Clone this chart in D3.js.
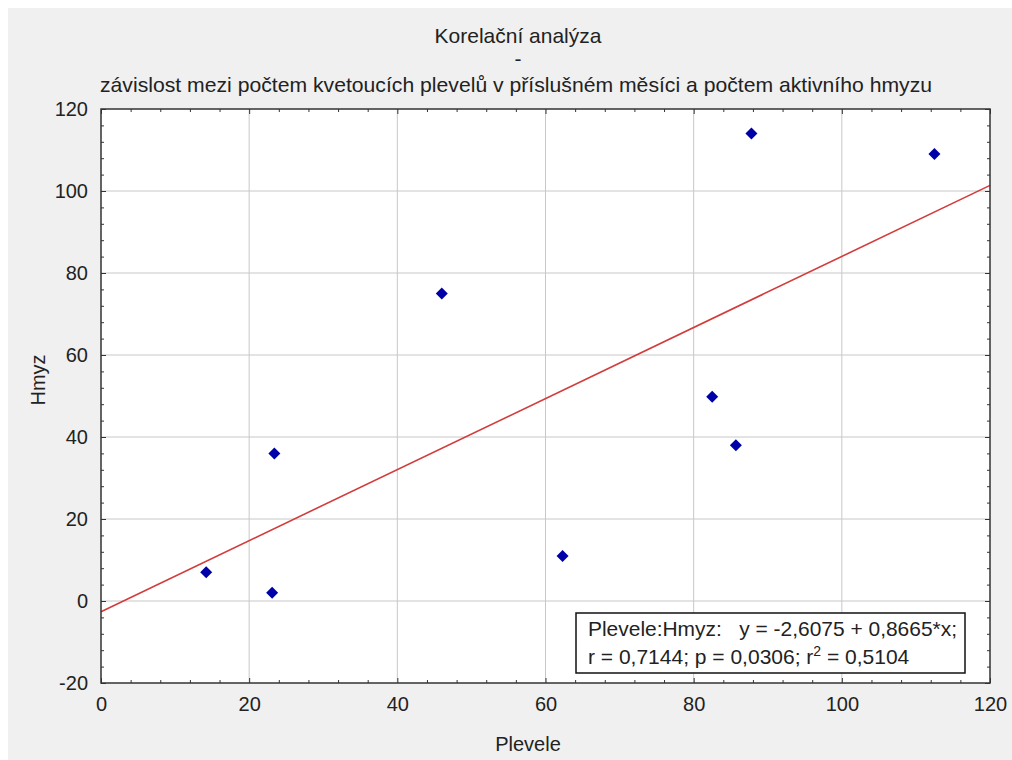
<!DOCTYPE html>
<html><head><meta charset="utf-8">
<script src="https://cdn.jsdelivr.net/npm/d3@7"></script>
<style>body{margin:0;background:#fff;} text{font-family:"Liberation Sans",Arial,sans-serif;fill:#222;}</style>
</head><body>
<svg id="c" width="1012" height="760"></svg>
<script>
const plevele = [14.2, 23.1, 23.4, 62.3, 46.0, 82.5, 85.7, 87.8, 112.5];
const hmyz    = [7.0, 2.0, 36.0, 11.0, 75.0, 49.8, 38.0, 114.0, 109.0];
const xTicks = [0, 20, 40, 60, 80, 100, 120];
const yTicks = [-20, 0, 20, 40, 60, 80, 100, 120];
const intercept = -2.6075, slope = 0.8665;
const titleLines = ["Korelační analýza", "-", "závislost mezi počtem kvetoucích plevelů v příslušném měsíci a počtem aktivního hmyzu"];
const legendLine1 = "Plevele:Hmyz:   y = -2,6075 + 0,8665*x;";
const xLabel = "Plevele", yLabel = "Hmyz";

const svg = d3.select("#c");
svg.append("rect").attr("x",8).attr("y",8).attr("width",1004).attr("height",752).attr("fill","#f0f0f0");

const L=101, R=990, T=109, B=683;
const x = d3.scaleLinear().domain([0,120]).range([L,R]);
const y = d3.scaleLinear().domain([-20,120]).range([B,T]);

svg.append("rect").attr("x",L).attr("y",T).attr("width",R-L).attr("height",B-T).attr("fill","#fff");

// grid
const g = svg.append("g");
g.selectAll(".gx").data(xTicks.slice(1,-1)).join("line")
 .attr("x1",d=>x(d)).attr("x2",d=>x(d)).attr("y1",T).attr("y2",B).attr("stroke","#c8c8c8").attr("stroke-width",1);
g.selectAll(".gy").data(yTicks.slice(1,-1)).join("line")
 .attr("y1",d=>y(d)).attr("y2",d=>y(d)).attr("x1",L).attr("x2",R).attr("stroke","#c8c8c8").attr("stroke-width",1);

// axes with inward ticks
const fmt = d => String(d);
const minorX = d3.range(0,121,4).filter(v=>v%20!==0);
const minorY = d3.range(-20,121,4).filter(v=>v%20!==0);
function axisG(axis, tx, ty){ const a=svg.append("g").attr("transform",`translate(${tx},${ty})`).call(axis); a.select(".domain").remove(); a.selectAll("line").attr("stroke","#333"); return a;}
const ax = axisG(d3.axisBottom(x).tickValues(xTicks).tickSizeInner(-5).tickPadding(14).tickFormat(fmt),0,B);
ax.selectAll("text").attr("font-size",20).attr("fill","#222").attr("font-family","Liberation Sans, Arial, sans-serif");
axisG(d3.axisBottom(x).tickValues(minorX).tickSizeInner(-3).tickFormat(""),0,B);
axisG(d3.axisTop(x).tickValues(xTicks).tickSizeInner(-5).tickFormat(""),0,T);
axisG(d3.axisTop(x).tickValues(minorX).tickSizeInner(-3).tickFormat(""),0,T);
const ay = axisG(d3.axisLeft(y).tickValues(yTicks).tickSizeInner(-5).tickPadding(13).tickFormat(fmt),L,0);
ay.selectAll("text").attr("font-size",20).attr("fill","#222").attr("font-family","Liberation Sans, Arial, sans-serif");
axisG(d3.axisLeft(y).tickValues(minorY).tickSizeInner(-3).tickFormat(""),L,0);
axisG(d3.axisRight(y).tickValues(yTicks).tickSizeInner(-5).tickFormat(""),R,0);
axisG(d3.axisRight(y).tickValues(minorY).tickSizeInner(-3).tickFormat(""),R,0);

// regression line
svg.append("line").attr("x1",x(0)).attr("y1",y(intercept)).attr("x2",x(120)).attr("y2",y(intercept+slope*120))
 .attr("stroke","#d23c3c").attr("stroke-width",1.6);

// points
svg.selectAll(".pt").data(plevele.map((p,i)=>[p,hmyz[i]])).join("path")
 .attr("d","M0,-6L6,0L0,6L-6,0Z").attr("fill","#0000a8")
 .attr("transform",d=>`translate(${x(d[0])},${y(d[1])})`);

// border
svg.append("rect").attr("x",L).attr("y",T).attr("width",R-L).attr("height",B-T).attr("fill","none").attr("stroke","#333").attr("stroke-width",1.5);

// titles
svg.append("text").attr("x",518).attr("y",43).attr("text-anchor","middle").attr("font-size",21).text(titleLines[0]);
svg.append("text").attr("x",518).attr("y",66).attr("text-anchor","middle").attr("font-size",21).text(titleLines[1]);
svg.append("text").attr("x",516).attr("y",92).attr("text-anchor","middle").attr("font-size",21)
 .attr("textLength",832).attr("lengthAdjust","spacingAndGlyphs").text(titleLines[2]);

svg.append("text").attr("x",528).attr("y",751).attr("text-anchor","middle").attr("font-size",20).text(xLabel);
svg.append("text").attr("transform","translate(45,380) rotate(-90)").attr("text-anchor","middle").attr("font-size",20).text(yLabel);

// legend box
svg.append("rect").attr("x",576).attr("y",613).attr("width",389).attr("height",60).attr("fill","#fff").attr("stroke","#111").attr("stroke-width",1.5);
svg.append("text").attr("x",588).attr("y",636).attr("font-size",21).attr("xml:space","preserve")
 .attr("textLength",369).attr("lengthAdjust","spacingAndGlyphs").text(legendLine1);
const t2 = svg.append("text").attr("x",588).attr("y",664).attr("font-size",21);
t2.append("tspan").text("r = 0,7144; p = 0,0306; r");
t2.append("tspan").attr("font-size",14).attr("dy",-8).text("2");
t2.append("tspan").attr("dy",8).text(" = 0,5104");
</script>
</body></html>
